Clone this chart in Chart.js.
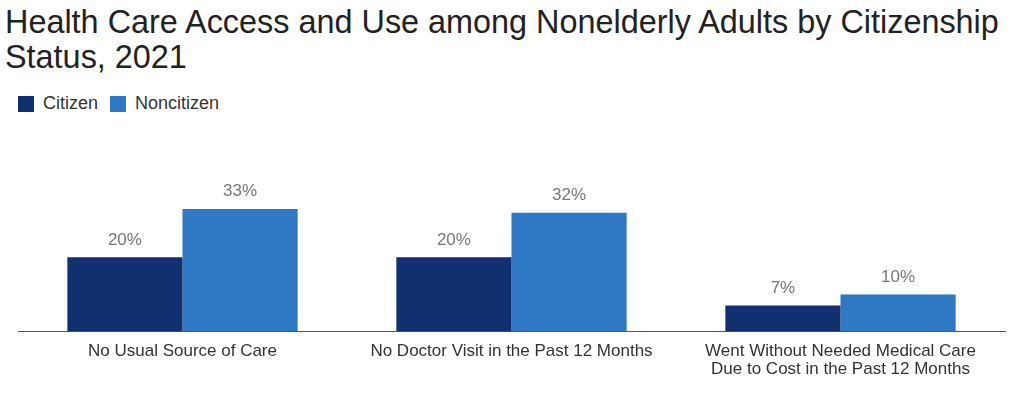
<!DOCTYPE html>
<html>
<head>
<meta charset="utf-8">
<script src="https://cdn.jsdelivr.net/npm/chart.js@4"></script>
<style>
  html, body { margin: 0; padding: 0; background: #fff; }
  body { width: 1024px; height: 394px; position: relative; overflow: hidden; font-family: "Liberation Sans", Arial, sans-serif; }
  #title { position: absolute; left: 5px; top: 5px; font-size: 32.4px; line-height: 35px; color: #222; white-space: nowrap; }
  #legend { position: absolute; left: 18px; top: 93px; font-size: 18px; color: #333; display: flex; align-items: center; }
  #legend span.box { display: inline-block; width: 16px; height: 16px; margin-right: 9px; }
  #legend span.item { display: inline-flex; align-items: center; margin-right: 12px; }
  #wrap { position: absolute; left: 0; top: 120px; width: 1024px; height: 274px; }
</style>
</head>
<body>
<div id="title">Health Care Access and Use among Nonelderly Adults by Citizenship<br>Status, 2021</div>
<div id="legend"></div>
<div id="wrap"><canvas id="chart"></canvas></div>
<script>
const categories = [
  "No Usual Source of Care",
  "No Doctor Visit in the Past 12 Months",
  ["Went Without Needed Medical Care", "Due to Cost in the Past 12 Months"]
];
const seriesNames = ["Citizen", "Noncitizen"];
const citizen = [20, 20, 7];
const noncitizen = [33, 32, 10];
const colors = ["#10306f", "#2f78c4"];

const font = "'Liberation Sans', Arial, sans-serif";

// draws the % labels above each bar
const barLabels = {
  id: "barLabels",
  afterDatasetsDraw(chart) {
    const ctx = chart.ctx;
    ctx.save();
    ctx.font = "17px " + font;
    ctx.fillStyle = "#777";
    ctx.textAlign = "center";
    ctx.textBaseline = "bottom";
    chart.data.datasets.forEach((ds, i) => {
      chart.getDatasetMeta(i).data.forEach((bar, j) => {
        ctx.fillText(ds.data[j] + "%", bar.x, bar.y - 9);
      });
    });
    ctx.restore();
  }
};

const chart = new Chart(document.getElementById("chart"), {
  type: "bar",
  data: {
    labels: categories,
    datasets: [
      { label: seriesNames[0], data: citizen, backgroundColor: colors[0] },
      { label: seriesNames[1], data: noncitizen, backgroundColor: colors[1] }
    ]
  },
  options: {
    responsive: true,
    maintainAspectRatio: false,
    animation: false,
    layout: { padding: { left: 18, right: 19, top: 26, bottom: 5 } },
    datasets: { bar: { categoryPercentage: 0.70, barPercentage: 1.0 } },
    plugins: {
      legend: { display: false },
      tooltip: { enabled: false }
    },
    scales: {
      x: {
        grid: { display: false, drawTicks: false },
        border: { display: true, color: "#555", width: 1 },
        ticks: {
          color: "#333", padding: 10, maxRotation: 0, autoSkip: false,
          font: { family: font, size: 17, lineHeight: 1.1 }
        }
      },
      y: {
        display: false,
        min: 0, max: 50
      }
    }
  },
  plugins: [barLabels]
});

// simple html legend from the datasets
const legend = document.getElementById("legend");
chart.data.datasets.forEach(ds => {
  const item = document.createElement("span");
  item.className = "item";
  item.innerHTML = `<span class="box" style="background:${ds.backgroundColor}"></span>${ds.label}`;
  legend.appendChild(item);
});
</script>
</body>
</html>
